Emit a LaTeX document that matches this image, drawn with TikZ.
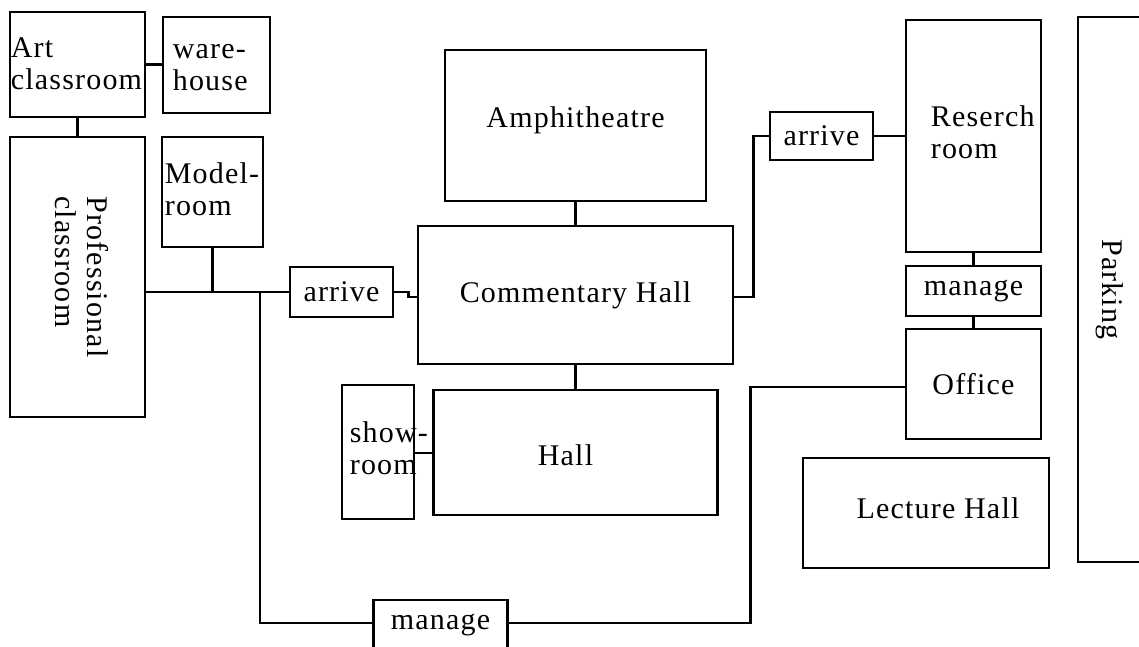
\documentclass[tikz,border=0pt]{standalone}
\usepackage{fontspec}
\setmainfont{Liberation Serif}[LetterSpace=4]
\begin{document}
\begin{tikzpicture}[x=1pt,y=-1pt,
  room/.style={draw, line width=2.7pt, inner sep=0pt, anchor=center,
    font=\fontsize{30}{32}\selectfont},
  wire/.style={line width=2.7pt, line join=miter},
  tl/.style={inner sep=0pt, align=left, font=\fontsize{30}{32}\selectfont},
  txt/.style={inner sep=0pt, font=\fontsize{30}{32}\selectfont}]
\useasboundingbox (0,0) rectangle (1139,647);
\clip (0,0) rectangle (1139,647);

% left column
\node[room, minimum width=135pt, minimum height=105pt,
  label={[tl, anchor=west, xshift=2pt, yshift=1pt]west:{Art\\classroom}}] (art) at (77.5,64.5) {};
\node[room, minimum width=107pt, minimum height=96pt,
  label={[tl, anchor=west, xshift=11pt, yshift=-3pt]west:{ware-\\house}}] (ware) at (216.5,65) {};
\node[room, minimum width=135pt, minimum height=280pt]
  (prof) at (77.5,277) {\rotatebox{-90}{\begin{tabular}{@{}l@{}}Professional\\classroom\end{tabular}}};
\node[room, minimum width=101pt, minimum height=110pt,
  label={[tl, anchor=west, xshift=4pt, yshift=3pt]west:{Model-\\room}}] (model) at (212.5,192) {};

% middle
\node[room, minimum width=103pt, minimum height=50pt] (arr1) at (341.5,292) {arrive};
\node[room, minimum width=261pt, minimum height=151pt,
  label={[txt, yshift=5pt]center:Amphitheatre}] (amph) at (575.5,125.5) {};
\node[room, minimum width=315pt, minimum height=138pt] (ch) at (575.5,295) {Commentary Hall};
\node[room, minimum width=284pt, minimum height=125pt,
  label={[txt, xshift=-10pt, yshift=-3pt]center:Hall}] (hall) at (575.5,452.5) {};
\node[room, minimum width=72pt, minimum height=134pt,
  label={[tl, anchor=west, xshift=9pt, yshift=4pt]west:{show-\\room}}] (show) at (378,452) {};
\node[room, minimum width=134pt, minimum height=54pt] (manb) at (440.5,627) {};
\node[txt, anchor=base] (manbt) at (440.5,629) {manage};

% right
\node[room, minimum width=103pt, minimum height=48pt] (arr2) at (821.5,136) {arrive};
\node[room, minimum width=135pt, minimum height=232pt,
  label={[tl, anchor=west, xshift=26pt, yshift=4pt]west:{Reserch\\room}}] (res) at (973.5,136) {};
\node[room, minimum width=135pt, minimum height=50pt] (manr) at (973.5,291) {manage};
\node[room, minimum width=135pt, minimum height=110pt] (office) at (973.5,384) {Office};
\node[room, minimum width=246pt, minimum height=110pt,
  label={[txt, xshift=12pt, yshift=5pt]center:Lecture Hall}] (lect) at (926,513) {};
\node[room, minimum width=72pt, minimum height=545pt,
  label={[txt, rotate=-90, yshift=-4pt]center:Parking}] (park) at (1114,289.5) {};

% connectors
\coordinate (j1) at (260,292);
\coordinate (showc) at ([yshift=-1pt]show.east);
\draw[wire] (art.east) -- (ware.west |- art.east);
\draw[wire] (art.south) -- (prof.north);
\draw[wire] (prof.east |- arr1.west) -- (arr1.west);
\draw[wire] (model.south) -- (model.south |- arr1.west);
\draw[wire] (j1) |- ([yshift=4pt]manb.west);
\draw[wire] (arr1.east) -- ++(14,0) |- ([yshift=-2pt]ch.west);
\draw[wire] ([yshift=-2pt]ch.east) -- ++(19,0) |- (arr2.west);
\draw[wire] (arr2.east) -- (res.west |- arr2.east);
\draw[wire] (ch.north) -- (amph.south);
\draw[wire] (ch.south) -- (hall.north);
\draw[wire] (showc) -- (hall.west |- showc);
\draw[wire] (res.south) -- (manr.north);
\draw[wire] (manr.south) -- (office.north);
\draw[wire] ([yshift=-3pt]office.west) -- ++(-154,0) |- ([yshift=4pt]manb.east);
\end{tikzpicture}
\end{document}
